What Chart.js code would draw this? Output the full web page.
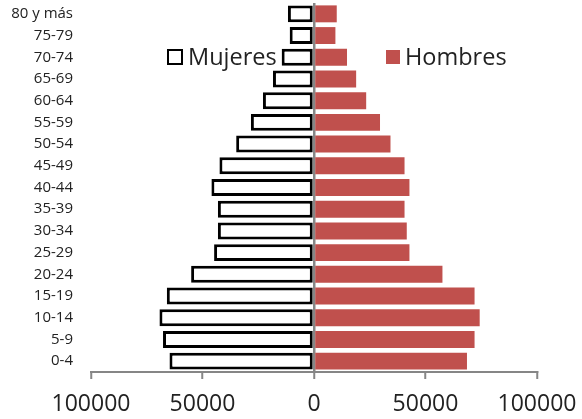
<!DOCTYPE html>
<html>
<head>
<meta charset="utf-8">
<script src="https://cdn.jsdelivr.net/npm/chart.js@4.4.1/dist/chart.umd.min.js"></script>
<style>
  html, body { margin: 0; padding: 0; background: #fff; }
  #wrap { width: 582px; height: 419px; }
</style>
</head>
<body>
<div id="wrap"><canvas id="piramide"></canvas></div>
<script>
// grupos de edad, de abajo hacia arriba
const grupos = ['0-4', '5-9', '10-14', '15-19', '20-24', '25-29', '30-34', '35-39',
  '40-44', '45-49', '50-54', '55-59', '60-64', '65-69', '70-74', '75-79', '80 y más'];

const mujeres = [64800, 67700, 69300, 66000, 55100, 44800, 43100, 43100,
  46000, 42400, 34900, 28300, 22900, 18400, 14500, 10900, 11700];

const hombres = [68600, 72000, 74300, 72000, 57600, 42800, 41600, 40600,
  42800, 40600, 34300, 29600, 23400, 18900, 14800, 9600, 10200];

const ticksX = [-100000, -50000, 0, 50000, 100000];

Chart.defaults.font.family = '"Open Sans", sans-serif';
Chart.defaults.color = '#222';

// leyenda dibujada dentro del area del grafico, como en el original
const leyendaDentro = {
  id: 'leyendaDentro',
  afterDatasetsDraw(chart) {
    const ctx = chart.ctx;
    const area = chart.chartArea;
    const items = [
      { ds: chart.data.datasets[0], x: area.left + 76, box: 16 },
      { ds: chart.data.datasets[1], x: area.left + 295, box: 14 }
    ];
    ctx.save();
    ctx.font = '23.5px "Open Sans", sans-serif';
    ctx.textBaseline = 'middle';
    items.forEach(it => {
      const cy = area.top + 54;
      ctx.fillStyle = it.ds.backgroundColor;
      ctx.fillRect(it.x, cy - it.box / 2, it.box, it.box);
      if (it.ds.borderWidth) {
        ctx.lineWidth = 2;
        ctx.strokeStyle = it.ds.borderColor;
        ctx.strokeRect(it.x + 1, cy - it.box / 2 + 1, it.box - 2, it.box - 2);
      }
      ctx.fillStyle = '#222';
      ctx.fillText(it.ds.label, it.x + it.box + 5, cy + 1);
    });
    ctx.restore();
  }
};

new Chart(document.getElementById('piramide'), {
  type: 'bar',
  data: {
    labels: grupos,
    datasets: [{
      label: 'Mujeres',
      data: mujeres.map(v => -v),
      backgroundColor: '#ffffff',
      borderColor: '#000000',
      borderWidth: 3,
      borderSkipped: false
    }, {
      label: 'Hombres',
      data: hombres,
      backgroundColor: '#c0504d',
      borderWidth: 0
    }]
  },
  options: {
    indexAxis: 'y',
    responsive: true,
    maintainAspectRatio: false,
    animation: false,
    layout: { padding: { top: 3, left: 0, right: 0, bottom: 0 } },
    datasets: { bar: { barPercentage: 0.78, categoryPercentage: 1 } },
    scales: {
      x: {
        stacked: true,
        min: -100000,
        max: 100000,
        afterBuildTicks(axis) {
          axis.ticks = ticksX.map(v => ({ value: v }));
        },
        afterFit(axis) {
          axis.height = 47;
          axis.paddingLeft = 0;
          axis.paddingRight = 45;
        },
        grid: {
          color: c => (c.tick && c.tick.value === 0 ? '#868686' : 'rgba(0,0,0,0)'),
          lineWidth: 2.5,
          drawTicks: true,
          tickLength: 7,
          tickColor: '#868686',
          tickWidth: 2
        },
        border: { display: true, color: '#868686', width: 2 },
        ticks: {
          maxRotation: 0,
          padding: 12,
          font: { size: 23 },
          callback: v => Math.abs(v)
        }
      },
      y: {
        stacked: true,
        reverse: true,
        grid: { display: false, drawTicks: false },
        border: { display: false },
        ticks: { font: { size: 15 }, padding: 18, autoSkip: false },
        afterFit(axis) {
          // sin margen extra arriba/abajo por el padding de las etiquetas
          axis.width = 91;
          axis.paddingTop = 0;
          axis.paddingBottom = 0;
        }
      }
    },
    plugins: {
      legend: { display: false },
      tooltip: { enabled: false }
    }
  },
  plugins: [leyendaDentro]
});
</script>
</body>
</html>
